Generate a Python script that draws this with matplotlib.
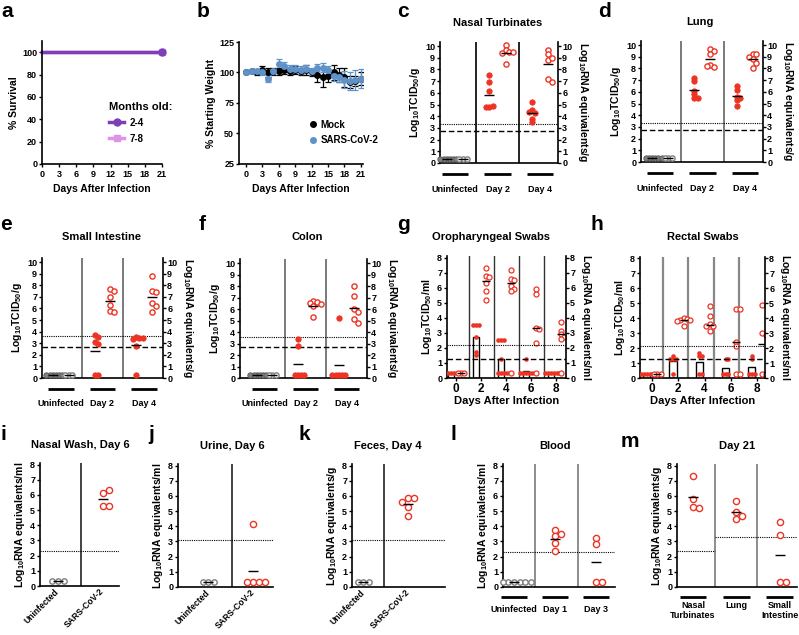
import matplotlib.pyplot as plt
import numpy as np

plt.rcParams["font.family"] = ["Liberation Sans", "DejaVu Sans"]
plt.rcParams["font.weight"] = "bold"
plt.rcParams["axes.labelweight"] = "bold"
plt.rcParams["mathtext.default"] = "regular"
plt.rcParams["axes.linewidth"] = 1.2
plt.rcParams["xtick.major.width"] = 1.0
plt.rcParams["ytick.major.width"] = 1.0
plt.rcParams["xtick.major.size"] = 2.5
plt.rcParams["ytick.major.size"] = 2.5
plt.rcParams["xtick.major.pad"] = 1.5
plt.rcParams["ytick.major.pad"] = 1.0
plt.rcParams["xtick.labelsize"] = 6.5
plt.rcParams["ytick.labelsize"] = 6.5

W, H = 799, 635
RED = "#ED3424"
GREY = "#7F7F7F"
PURPLE = "#7D3FB5"
PINK = "#DD93E6"
BLUE = "#5E92C9"

# ---------------- data ----------------
# a: survival
surv_days = [0, 21]
surv_2_4 = [100, 100]
surv_7_8 = [100, 100]

# b: weight
wt_days = list(range(22))
mock_mean = [100, 101, 100, 102, 100, 101, 101, 102, 101, 102, 101, 102, 100, 98, 96, 97, 100, 98, 96, 92, 93, 95]
mock_sd = [0, 1, 2, 3, 4, 3, 3, 3, 3, 3, 3, 4, 3, 6, 8, 5, 6, 6, 8, 5, 4, 5]
cov_mean = [100, 101, 101, 100, 95, 101, 107, 105, 103, 103, 102, 103, 101, 104, 104, 102, 97, 96, 94, 93, 94, 95]
cov_sd = [0, 1, 2, 2, 3, 2, 4, 4, 3, 3, 3, 3, 3, 3, 4, 3, 4, 4, 7, 7, 8, 8]

# c-f: tissues (Uninfected, Day 2, Day 4)
tissue_groups = ["Uninfected", "Day 2", "Day 4"]
nasal_tcid = [[0.3, 0.3, 0.3, 0.3, 0.3, 0.3], [7.5, 6.9, 6.2, 4.8, 4.85, 4.8], [5.2, 4.5, 4.3, 4.35, 3.8, 3.5]]
nasal_rna = [[0.3, 0.3, 0.3], [10.1, 9.7, 9.5, 9.4, 9.5, 8.5], [9.7, 9.3, 8.8, 9.0, 7.2, 6.9]]
lung_tcid = [[0.3, 0.3, 0.3, 0.3, 0.3, 0.3], [7.2, 6.9, 6.1, 5.8, 5.5, 5.5], [6.5, 6.2, 5.6, 5.5, 5.3, 4.8]]
lung_rna = [[0.3, 0.3, 0.3], [9.7, 9.5, 9.2, 8.3, 8.1, 8.2], [9.2, 9.2, 9.0, 8.8, 8.5, 8.0]]
si_tcid = [[0.3, 0.3, 0.3, 0.3, 0.3, 0.3], [3.75, 3.5, 3.1, 2.9, 0.3, 0.3], [3.5, 3.45, 3.4, 3.45, 2.8, 0.3]]
si_rna = [[0.3, 0.3, 0.3], [7.7, 7.5, 7.0, 6.3, 5.8, 5.7], [8.8, 7.5, 7.4, 6.5, 6.2, 5.7]]
colon_tcid = [[0.3, 0.3, 0.3, 0.3, 0.3, 0.3], [3.4, 2.8, 0.3, 0.3, 0.3, 0.3], [5.2, 0.3, 0.3, 0.3, 0.3, 0.3]]
colon_rna = [[0.3, 0.3, 0.3], [6.7, 6.6, 6.5, 6.4, 6.3, 5.3], [8.0, 7.1, 6.0, 5.7, 5.1, 4.8]]

# g-h: swabs by day
swab_days = [0, 2, 4, 6, 8]
oro_tcid = [[0.3, 0.3, 0.3, 0.3, 0.3], [3.5, 3.5, 3.5, 2.75, 1.75, 1.5],
            [2.5, 2.5, 2.5, 1.25, 0.3, 0.3, 0.3, 0.3], [1.25, 0.3, 0.3, 0.3, 0.3, 0.3], [0.3, 0.3, 0.3, 0.3, 0.3, 0.3]]
oro_rna = [[0.3, 0.3, 0.3], [7.3, 6.8, 6.7, 6.3, 5.8, 5.2], [7.2, 6.6, 6.5, 6.1, 5.9, 5.8, 0.3],
           [5.9, 5.6, 3.3, 3.25, 2.35, 0.3], [3.75, 3.15, 2.9, 2.7, 2.6, 0.3]]
oro_rna_mean = [0.3, 6.45, 6.3, 3.3, 2.9]
rec_tcid = [[0.3, 0.3, 0.3, 0.3, 0.3], [1.5, 1.3, 1.25, 1.25, 0.3], [1.7, 1.5, 1.5, 0.3, 0.3],
            [1.25, 1.25, 0.3, 0.3, 0.3], [1.5, 1.25, 0.3, 0.3, 0.3]]
rec_rna = [[0.3, 0.3, 0.3], [4.0, 3.95, 3.9, 3.85, 3.8, 3.5], [4.85, 4.15, 3.6, 3.5, 3.45, 3.15],
           [4.65, 4.6, 2.4, 2.15, 0.3, 0.3], [4.9, 3.0, 2.85, 0.3, 0.3]]
rec_rna_mean = [0.3, 3.9, 3.55, 2.4, 2.3]

# i-m: RNA only
two_groups = ["Uninfected", "SARS-CoV-2"]
wash_rna = [[0.3, 0.3, 0.3], [6.15, 6.3, 5.25, 5.25]]
urine_rna = [[0.3, 0.3, 0.3], [4.15, 0.3, 0.3, 0.3, 0.3]]
feces_rna = [[0.3, 0.3, 0.3], [5.85, 5.85, 5.6, 5.3, 4.7]]
blood_groups = ["Uninfected", "Day 1", "Day 3"]
blood_rna = [[0.3, 0.3, 0.3, 0.3, 0.3, 0.3], [3.75, 3.5, 3.35, 2.9, 2.4], [3.25, 2.85, 0.3, 0.3]]
d21_groups = ["Nasal\nTurbinates", "Lung", "Small\nIntestine"]
d21_rna = [[7.3, 5.8, 5.3, 5.2], [5.65, 4.95, 4.7, 4.45], [4.25, 3.45, 0.3, 0.3]]

# ---------------- helpers ----------------
fig = plt.figure(figsize=(W / 100, H / 100), dpi=100)


def add_ax(left, right, bottom, top):
    ax = fig.add_axes([left / W, 1 - bottom / H, (right - left) / W, (bottom - top) / H])
    ax.spines["top"].set_visible(False)
    ax.spines["right"].set_visible(False)
    return ax


def fig_text(x, y, s, **kw):
    fig.text(x / W, 1 - y / H, s, **kw)


def swarm_x(ax, xc, vals, step):
    # spread overlapping points sideways, in pixel space
    tr = ax.transData
    inv = tr.inverted()
    placed = []
    xs = []
    for v in vals:
        x0, y0 = tr.transform((xc, v))
        px = x0
        for k in [0, 1, -1, 2, -2, 3, -3, 4, -4, 5, -5, 6, -6]:
            px = x0 + k * step
            if all((px - qx) ** 2 + (y0 - qy) ** 2 >= (step * 0.999) ** 2 for qx, qy in placed):
                break
        placed.append((px, y0))
        xs.append(inv.transform((px, y0))[0])
    return xs


def px_to_dx(ax, n):
    tr = ax.transData
    return n / (tr.transform((1, 0))[0] - tr.transform((0, 0))[0])


def mean_line(ax, xc, m, half_px=5):
    d = px_to_dx(ax, half_px)
    ax.plot([xc - d, xc + d], [m, m], color="black", lw=1, zorder=5, solid_capstyle="butt")


def group_bars(ax, centers, labels, bar_px=11, lab_px=26, half=0.31, va="center"):
    h = ax.bbox.height
    tr = ax.get_xaxis_transform()
    for c, lab in zip(centers, labels):
        ax.plot([c - half, c + half], [-bar_px / h] * 2, transform=tr, color="black", lw=2,
                clip_on=False, solid_capstyle="butt")
        ax.text(c, -lab_px / h, lab, transform=tr, ha="center", va=va, fontsize=6.5,
                linespacing=1.1)


def right_axis(ax, ymax, ticks, label):
    ax2 = ax.twinx()
    ax2.set_ylim(0, ymax)
    ax2.set_yticks(ticks)
    for s in ["top", "left", "bottom"]:
        ax2.spines[s].set_visible(False)
    ax2.spines["right"].set_visible(True)
    ax2.tick_params(axis="y", direction="out", pad=0.5)
    ax2.set_ylabel(label, rotation=270, va="bottom", fontsize=7.5, labelpad=3)
    return ax2


def tissue_panel(box, xlim, tcid, rna, dotted, dashed, vcolor, ylab, rlab):
    ax = add_ax(*box)
    ax.set_xlim(*xlim)
    ax.set_ylim(0, 10.35)
    ax.set_yticks(range(11))
    ax.set_xticks([])
    for xv in [0.5, 1.5]:
        ax.axvline(xv, color=vcolor, lw=1.4, zorder=1)
    ax.axhline(dotted, color="black", lw=0.8, ls=(0, (1, 1)), zorder=2)
    ax.axhline(dashed, color="black", lw=1.0, ls=(0, (4, 2)), zorder=2)
    for g, (tv, rv) in enumerate(zip(tcid, rna)):
        col = GREY if g == 0 else RED
        xs = swarm_x(ax, g - 0.19, tv, 3.2)
        ax.scatter(xs, tv, s=15, color=col, edgecolors=col if g else "#555555", lw=0.6,
                   zorder=3, clip_on=False)
        xs = swarm_x(ax, g + 0.19, rv, 3.6)
        ax.scatter(xs, rv, s=14, facecolors="white", edgecolors=col, lw=1.0, zorder=3,
                   clip_on=False)
        mean_line(ax, g - 0.19, np.mean(tv))
        mean_line(ax, g + 0.19, np.mean(rv))
    ax.set_ylabel(ylab, fontsize=7.5, labelpad=2)
    right_axis(ax, 10.35, range(11), rlab)
    group_bars(ax, [0, 1, 2], tissue_groups)
    return ax


def swab_panel(box, xlim, vlines, vcolor, vlw, tcid, rna, rna_mean, dotted, dashed, ylab, rlab):
    ax = add_ax(*box)
    ax.set_xlim(*xlim)
    ax.set_ylim(0, 8.1)
    ax.set_yticks(range(9))
    ax.set_xticks(swab_days)
    ax.tick_params(axis="x", labelsize=8.5, pad=1)
    for xv in vlines:
        ax.axvline(xv, color=vcolor, lw=vlw, zorder=1)
    ax.axhline(dotted, color="black", lw=0.8, ls=(0, (1, 1)), zorder=4)
    ax.axhline(dashed, color="black", lw=1.0, ls=(0, (4, 2)), zorder=4)
    for i, d in enumerate(swab_days):
        ax.bar(d - 0.4, np.mean(tcid[i]), width=0.55, facecolor="white", edgecolor="black",
               lw=1.0, zorder=2)
        xs = swarm_x(ax, d - 0.4, tcid[i], 2.8)
        ax.scatter(xs, tcid[i], s=11, color=RED, lw=0, zorder=3)
        xs = swarm_x(ax, d + 0.4, rna[i], 3.4)
        ax.scatter(xs, rna[i], s=13, facecolors="white", edgecolors=RED, lw=0.9, zorder=3)
        mean_line(ax, d + 0.4, rna_mean[i], 4)
    ax.set_xlabel("Days After Infection", fontsize=8, labelpad=1)
    ax.set_ylabel(ylab, fontsize=7.5, labelpad=2)
    right_axis(ax, 8.1, range(9), rlab)
    return ax


def rna_panel(box, xlim, vlines, vcolor, vals, first_grey, ylab, s=20):
    ax = add_ax(*box)
    ax.set_xlim(*xlim)
    ax.set_ylim(0, 8.1)
    ax.set_yticks(range(9))
    for xv in vlines:
        ax.axvline(xv, color=vcolor, lw=1.2, zorder=1)
    for g, v in enumerate(vals):
        col = GREY if (g == 0 and first_grey) else RED
        xs = swarm_x(ax, g, v, 5.6 if col == GREY else 6.0)
        ax.scatter(xs, v, s=s if col == RED else 15, facecolors="white", edgecolors=col,
                   lw=1.0, zorder=3, clip_on=False)
        mean_line(ax, g, np.mean(v), 5)
    ax.set_ylabel(ylab, fontsize=7.5, labelpad=2)
    return ax


TCID_G = r"Log$_{10}$TCID$_{50}$/g"
RNA_G = r"Log$_{10}$RNA equivalents/g"
TCID_ML = r"Log$_{10}$TCID$_{50}$/ml"
RNA_ML = r"Log$_{10}$RNA equivalents/ml"

# ---------------- a ----------------
ax = add_ax(42, 162, 164, 41)
ax.plot(surv_days, surv_7_8, color=PINK, lw=2.5, marker="s", ms=5, markevery=[1],
        clip_on=False, label="7-8")
ax.plot(surv_days, surv_2_4, color=PURPLE, lw=2.5, marker="o", ms=5, markevery=[1],
        clip_on=False, label="2-4")
ax.set_xlim(0, 21)
ax.set_ylim(0, 110)
ax.set_xticks(range(0, 22, 3))
ax.set_yticks(range(0, 101, 20))
ax.set_xlabel("Days After Infection", fontsize=7.5, labelpad=4)
ax.set_ylabel("% Survival", fontsize=7.5, labelpad=2)
h_, l_ = ax.get_legend_handles_labels()
leg = ax.legend(h_[::-1], l_[::-1], title="Months old:", loc="upper left",
                bbox_to_anchor=(0.5, 0.56), frameon=False, fontsize=7, handlelength=1.6,
                borderpad=0.2, labelspacing=0.6, handletextpad=0.5)
leg.get_title().set_fontweight("bold")
leg.get_title().set_fontsize(8)
leg._legend_box.align = "left"

# ---------------- b ----------------
ax = add_ax(239, 363, 164, 42)
ax.errorbar(wt_days, mock_mean, yerr=mock_sd, fmt="o", color="black", ms=4, lw=0.9,
            capsize=2, capthick=0.9, label="Mock")
ax.errorbar(wt_days, cov_mean, yerr=cov_sd, fmt="o", color=BLUE, ms=4, lw=0.9,
            capsize=2, capthick=0.9, label="SARS-CoV-2")
ax.set_xlim(-1.3, 21.4)
ax.set_ylim(25, 125)
ax.set_xticks(range(0, 22, 3))
ax.set_yticks(range(25, 126, 25))
ax.set_xlabel("Days After Infection", fontsize=7.5, labelpad=4)
ax.set_ylabel("% Starting Weight", fontsize=7.5, labelpad=2)
h_, l_ = ax.get_legend_handles_labels()
ax.legend([hh[0] for hh in h_], l_, loc="upper left", bbox_to_anchor=(0.5, 0.42),
          frameon=False, fontsize=7, handlelength=1.0, handletextpad=0.3, labelspacing=0.6,
          borderpad=0.2)

# ---------------- c-f ----------------
tissue_panel((440, 558, 163, 42), (-0.35, 2.42), nasal_tcid, nasal_rna, 3.3, 2.7, "#222222", TCID_G, RNA_G)
tissue_panel((641, 763, 162, 41), (-0.45, 2.43), lung_tcid, lung_rna, 3.3, 2.7, "#7A7A7A", TCID_G, RNA_G)
tissue_panel((42, 163, 378, 258), (-0.45, 2.45), si_tcid, si_rna, 3.6, 2.7, "#7A7A7A", TCID_G, RNA_G)
tissue_panel((240, 367, 378, 259), (-0.6, 2.5), colon_tcid, colon_rna, 3.6, 2.7, "#7A7A7A", TCID_G, RNA_G)

# ---------------- g-h ----------------
swab_panel((447, 566, 378, 256), (-0.72, 8.8), [1, 3, 5, 7], "#333333", 1.0,
           oro_tcid, oro_rna, oro_rna_mean, 2.2, 1.25, TCID_ML, RNA_ML)
swab_panel((640, 765, 378, 257), (-0.92, 8.6), [0.85, 2.75, 4.7, 6.65], "#888888", 1.6,
           rec_tcid, rec_rna, rec_rna_mean, 2.15, 1.25, TCID_ML, RNA_ML)

# ---------------- i-k ----------------
for box, xlim, vx, vals, dotted, ylab in [
    ((40, 119, 586, 463), (-0.4, 1.36), 0.51, wash_rna, 2.3, RNA_ML),
    ((178, 273, 587, 464), (-0.67, 1.44), 0.53, urine_rna, 3.1, RNA_ML),
    ((352, 445, 587, 464), (-0.25, 1.82), 0.47, feces_rna, 3.1, RNA_G),
]:
    ax = rna_panel(box, xlim, [vx], "#222222", vals, True, ylab)
    ax.axhline(dotted, color="black", lw=0.8, ls=(0, (1, 1)), zorder=2)
    ax.set_xticks([0, 1])
    ax.tick_params(axis="x", length=0, pad=3)
    ax.set_xticklabels(two_groups, rotation=45, ha="right", va="center",
                       rotation_mode="anchor", fontsize=6.2)

# ---------------- l ----------------
ax = rna_panel((503, 615, 587, 464), (-0.27, 2.46), [0.5, 1.55], "#7A7A7A", blood_rna, True, RNA_ML)
ax.axhline(2.3, color="black", lw=0.8, ls=(0, (1, 1)), zorder=2)
ax.set_xticks([])
group_bars(ax, [0, 1, 2], blood_groups, bar_px=10, lab_px=22)

# ---------------- m ----------------
ax = rna_panel((677, 797, 587, 464), (-0.37, 2.4), [0.5, 1.47], "#7A7A7A", d21_rna, False, RNA_G)
ax.plot([-0.37, 0.5], [2.4, 2.4], color="black", lw=0.8, ls=(0, (1, 1)), zorder=2)
ax.plot([0.5, 2.4], [3.3, 3.3], color="black", lw=0.8, ls=(0, (1, 1)), zorder=2)
ax.set_xticks([])
group_bars(ax, [0, 1, 2], d21_groups, bar_px=10, lab_px=14, va="top")

# ---------------- titles and letters ----------------
for x, y, s in [(498, 23, "Nasal Turbinates"), (700, 22, "Lung"), (102, 237, "Small Intestine"),
                (307, 237, "Colon"), (491, 237, "Oropharyngeal Swabs"), (703, 237, "Rectal Swabs"),
                (80, 445, "Nasal Wash, Day 6"), (232, 446, "Urine, Day 6"), (388, 446, "Feces, Day 4"),
                (555, 446, "Blood"), (737, 446, "Day 21")]:
    fig_text(x, y, s, ha="center", va="center", fontsize=8)

for x, y, s in [(1, 17, "a"), (197, 17, "b"), (397, 17, "c"), (598, 17, "d"),
                (0, 230, "e"), (199, 230, "f"), (397, 230, "g"), (590, 230, "h"),
                (1, 440, "i"), (148, 440, "j"), (298, 440, "k"), (451, 440, "l"), (621, 447, "m")]:
    fig_text(x, y, s, ha="left", va="baseline", fontsize=15)

fig.savefig("out.png", dpi=100)
